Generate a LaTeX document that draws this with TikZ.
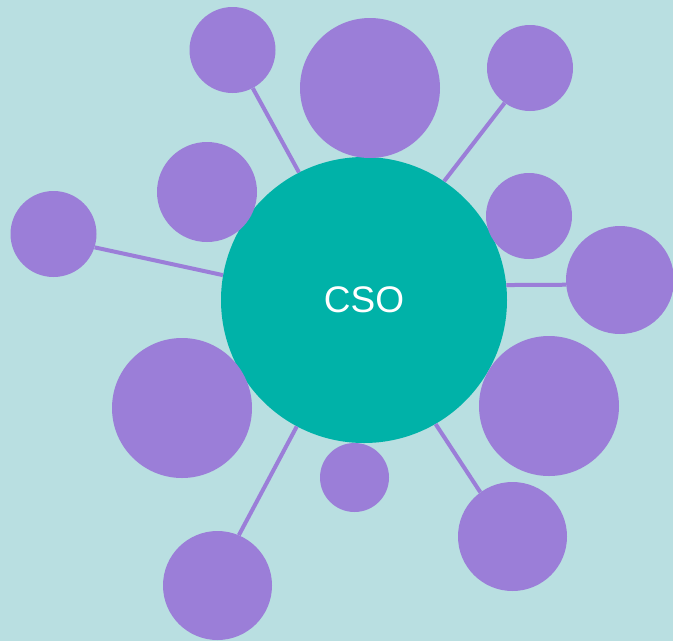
\documentclass[tikz,border=0pt]{standalone}
\usepackage{fontspec}
\setmainfont{Liberation Sans}
\definecolor{bgc}{HTML}{B9DFE1}
\definecolor{purp}{HTML}{9B7ED8}
\definecolor{tealc}{HTML}{00B2A8}
\begin{document}
\begin{tikzpicture}[x=1pt,y=-1pt,
  bubble/.style={circle,fill=purp,draw=none,inner sep=0pt,minimum size=#1},
  core/.style={circle,fill=tealc,draw=none,inner sep=0pt,minimum size=286pt,text=white,font=\fontsize{37}{42}\selectfont},
  link/.style={draw=purp,line width=4pt}]
\fill[bgc] (0,0) rectangle (673,641);
\useasboundingbox (0,0) rectangle (673,641);
\node[core] (cso) at (364,300) {CSO};
\node[bubble=86pt] (p1) at (232.5,50) {};
\node[bubble=140pt] (p2) at (370,88) {};
\node[bubble=86pt] (p3) at (530,68) {};
\node[bubble=100pt] (p4) at (207,192) {};
\node[bubble=86pt] (p5) at (53.5,234) {};
\node[bubble=86pt] (p6) at (529,216) {};
\node[bubble=108pt] (p7) at (620,280) {};
\node[bubble=140pt] (p8) at (182,408) {};
\node[bubble=140pt] (p9) at (549,406) {};
\node[bubble=69pt] (p10) at (354.5,477.5) {};
\node[bubble=109pt] (p11) at (512.5,536.5) {};
\node[bubble=109pt] (p12) at (217.5,585.5) {};
\draw[link] (p1.-62.8) -- (cso.117.8);
\draw[link] (p3.-126) -- (cso.56);
\draw[link] (p5.-18) -- (cso.170.7);
\draw[link] (p7.185) -- (cso.6);
\draw[link] (p12.67.9) -- (cso.242.2);
\draw[link] (p11.126) -- (cso.-60.4);
\end{tikzpicture}
\end{document}
